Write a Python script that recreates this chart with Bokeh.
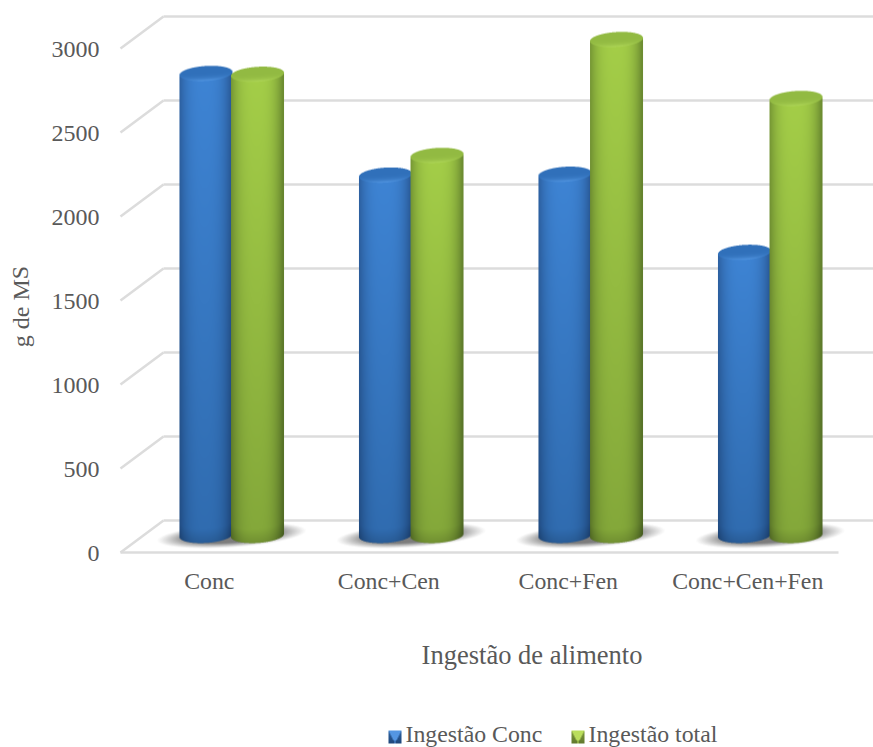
import numpy as np
from bokeh.embed import file_html
from bokeh.models import Range1d
from bokeh.plotting import figure
from bokeh.resources import INLINE
from bokeh.core.properties import value

categories = ["Conc", "Conc+Cen", "Conc+Fen", "Conc+Cen+Fen"]
ingestao_conc = [2750, 2145, 2150, 1685]
ingestao_total = [2745, 2262, 2952, 2601]
y_ticks = [0, 500, 1000, 1500, 2000, 2500, 3000]

TEXT = "#595959"
GRID = "#DCDCDC"
SERIF = "Liberation Serif"

W, H = 873, 747
X0, Y0 = 120.0, 552.0          # origin of the front floor edge, px
CAT_PX = 179.5                 # width of a category, px
PX_PER_UNIT = 0.168            # vertical scale
DX, DY = 43.0, 32.0            # depth offset of the back wall, px
BAR_W = 53.0
BAR_RY = 7.5
TILT = 1.6                     # rise of the cylinder ends towards the right, px


def ux(px):
    return px / CAT_PX


def uy(px):
    return px / PX_PER_UNIT


p = figure(width=W, height=H, output_backend="svg", toolbar_location=None,
           x_range=Range1d(ux(-X0), ux(W - X0)),
           y_range=Range1d(uy(Y0 - H), uy(Y0)),
           x_axis_type="linear", y_axis_type="linear",
           min_border=0, outline_line_color=None, background_fill_color="white",
           border_fill_color="white")
p.axis.visible = False
p.grid.visible = False

# back wall and side wall gridlines
for t in y_ticks:
    yb = t + uy(DY)
    p.line([0, ux(DX)], [t, yb], line_color=GRID, line_width=2.5)
    p.line([ux(DX), ux(W - X0)], [yb, yb], line_color=GRID, line_width=2.5)

# floor front edge
n = len(categories)
p.line([0, n], [0, 0], line_color=GRID, line_width=2.5)


def to_u32(rgba):
    return rgba.view(np.uint32).reshape(rgba.shape[:2])


def soft_shadow(w, h):
    """Blurred floor shadow, a flat ellipse rising towards the right."""
    yy, xx = np.mgrid[0:h, 0:w]
    u = (xx + 0.5 - w / 2) / (w / 2)
    rise = 5.0 * u
    v = (yy + 0.5 - h / 2 - rise) / (h * 0.30)
    d = np.sqrt(u ** 2 + v ** 2)
    a = np.clip((1 - d) / 0.42, 0, 1) ** 1.1 * 0.72
    img = np.zeros((h, w, 4), dtype=np.uint8)
    img[..., 0:3] = (72, 72, 72)
    img[..., 3] = (a * 255).astype(np.uint8)
    return to_u32(img)


def cylinder(val, top_mid, bot_mid, edge_top, edge_bot, lid, rim):
    """RGBA sprite of a shaded cylinder standing on the mid-depth plane."""
    ss = 3
    body_px = val * PX_PER_UNIT
    w = int(BAR_W * ss)
    h = int(round((body_px + 2 * BAR_RY + 2 * TILT) * ss))
    yy, xx = np.mgrid[0:h, 0:w]
    # y measured upward from sprite bottom, px
    y = (h - yy - 0.5) / ss - TILT
    x = (xx + 0.5) / ss - BAR_W / 2
    u = x / (BAR_W / 2)
    inside = np.abs(u) <= 1
    arc = BAR_RY * np.sqrt(np.clip(1 - u ** 2, 0, 1))
    skew = TILT * u
    lower = BAR_RY - arc + skew
    upper = BAR_RY + body_px + arc + skew
    t = np.clip((y - BAR_RY) / max(body_px, 1), 0, 1)[..., None]
    mid = np.array(bot_mid) * (1 - t) + np.array(top_mid) * t
    edge = np.array(edge_bot) * (1 - t) + np.array(edge_top) * t
    shade = (1 - np.clip(np.abs(u + 0.05), 0, 1) ** 3.0)[..., None]
    rgb = edge * (1 - shade) + mid * shade
    # slightly darker foot
    foot = np.clip(1 - (y - lower) / 14, 0, 1)[..., None] * 0.14
    rgb = rgb * (1 - foot)
    # top face, brightening towards its front rim
    cy = body_px + BAR_RY + skew
    lidmask = (u ** 2 + ((y - cy) / BAR_RY) ** 2) <= 1
    lid_t = np.clip((cy + BAR_RY - y) / (2 * BAR_RY), 0, 1)[..., None]
    lidrgb = np.array(lid) * (1 - lid_t ** 5) + np.array(rim) * lid_t ** 5
    rgb = np.where(lidmask[..., None], lidrgb, rgb)
    alpha = ((y >= lower) & (y <= upper) & inside).astype(float)

    def down(a):
        hh = (a.shape[0] // ss) * ss
        ww = (a.shape[1] // ss) * ss
        off = a.shape[0] - hh
        a = a[off:, :ww]
        return a.reshape(hh // ss, ss, ww // ss, ss, -1).mean(axis=(1, 3))

    rgb_d = down(rgb * alpha[..., None])
    a_d = down(alpha[..., None])
    out = np.zeros(a_d.shape[:2] + (4,), dtype=np.uint8)
    safe = np.where(a_d > 0, a_d, 1)
    out[..., :3] = np.clip(rgb_d / safe, 0, 255).astype(np.uint8)
    out[..., 3] = np.clip(a_d[..., 0] * 255, 0, 255).astype(np.uint8)
    return to_u32(out[::-1].copy())


BLUE = dict(top_mid=(62, 132, 212), bot_mid=(48, 108, 176),
            edge_top=(42, 90, 152), edge_bot=(30, 70, 122),
            lid=(48, 112, 186), rim=(84, 152, 228))
GREEN = dict(top_mid=(164, 206, 72), bot_mid=(132, 168, 58),
             edge_top=(110, 142, 50), edge_bot=(82, 108, 38),
             lid=(146, 186, 66), rim=(176, 216, 88))

# offset of each cylinder's axis from the category's centre, in category units
OFFSET = 0.1436
base_px = DY / 2 + 1        # mid-depth plane, above the front edge
x_shift = ux(DX / 2)

# floor shadows behind each pair of cylinders
for i in range(n):
    cx = i + 0.5 + x_shift
    sw, sh = 150, 40
    p.image_rgba(image=[soft_shadow(sw, sh)],
                 x=[cx - ux(sw) / 2], y=[uy(17 - sh / 2)],
                 dw=[ux(sw)], dh=[uy(sh)])

# bars drawn left to right, each pair blue then green
for i in range(n):
    cx = i + 0.5 + x_shift
    for vals, sign, pal in ((ingestao_conc, -1, BLUE),
                            (ingestao_total, 1, GREEN)):
        v = float(vals[i])
        xc = cx + sign * OFFSET
        ybase = uy(base_px)
        # solid core carrying the value, just under the shaded sprite
        p.vbar(x=[xc], top=[ybase + v], bottom=[ybase], width=ux(BAR_W - 4),
               fill_color=pal["bot_mid"], line_color=None)
        sprite = cylinder(v, **pal)
        p.image_rgba(image=[sprite],
                     x=[xc - ux(BAR_W) / 2], y=[ybase - uy(BAR_RY + TILT)],
                     dw=[ux(BAR_W)], dh=[uy(sprite.shape[0])])

# value axis labels
p.text(x=[ux(99 - X0)] * len(y_ticks), y=[t - uy(1) for t in y_ticks],
       text=[str(t) for t in y_ticks],
       text_font=value(SERIF), text_font_size="24px", text_color=TEXT,
       text_align="right", text_baseline="middle")

# category labels
p.text(x=[i + 0.5 - ux(1) for i in range(n)], y=[uy(-28)] * n, text=categories,
       text_font=value(SERIF), text_font_size="23.8px", text_color=TEXT,
       text_align="center", text_baseline="middle")

# axis titles
p.text(x=[ux(531.5 - X0)], y=[uy(Y0 - 654)], text=["Ingestão de alimento"],
       text_font=value(SERIF), text_font_size="26.5px", text_color=TEXT,
       text_align="center", text_baseline="middle")
p.text(x=[ux(20 - X0)], y=[uy(Y0 - 306)], text=["g de MS"], angle=[np.pi / 2],
       text_font=value(SERIF), text_font_size="24px", text_color=TEXT,
       text_align="center", text_baseline="middle")


def swatch(light, side, foot):
    """Legend key: a bright wedge from the top edge over darker sides."""
    s = 13
    yy, xx = np.mgrid[0:s, 0:s]
    dx = np.abs(xx - (s - 1) / 2) / ((s - 1) / 2)
    down_t = yy / (s - 1)
    wedge = dx <= (1 - down_t)
    col = np.where(wedge[..., None], np.array(light),
                   np.array(side) * (1 - down_t[..., None]) + np.array(foot) * down_t[..., None])
    img = np.zeros((s, s, 4), dtype=np.uint8)
    img[..., :3] = col.astype(np.uint8)
    img[..., 3] = 255
    return to_u32(img[::-1].copy())


# legend
p.image_rgba(image=[swatch((84, 150, 226), (44, 96, 160), (32, 72, 124))],
             x=[ux(388 - X0)], y=[uy(Y0 - 743)], dw=[ux(13)], dh=[uy(13)])
p.image_rgba(image=[swatch((186, 222, 92), (126, 154, 60), (98, 122, 46))],
             x=[ux(571 - X0)], y=[uy(Y0 - 743)], dw=[ux(13)], dh=[uy(13)])
p.text(x=[ux(405 - X0), ux(588 - X0)], y=[uy(Y0 - 733.5)] * 2,
       text=["Ingestão Conc", "Ingestão total"],
       text_font=value(SERIF), text_font_size="23.8px", text_color=TEXT,
       text_align="left", text_baseline="middle")

open("out.html", "w").write(file_html(p, INLINE))
